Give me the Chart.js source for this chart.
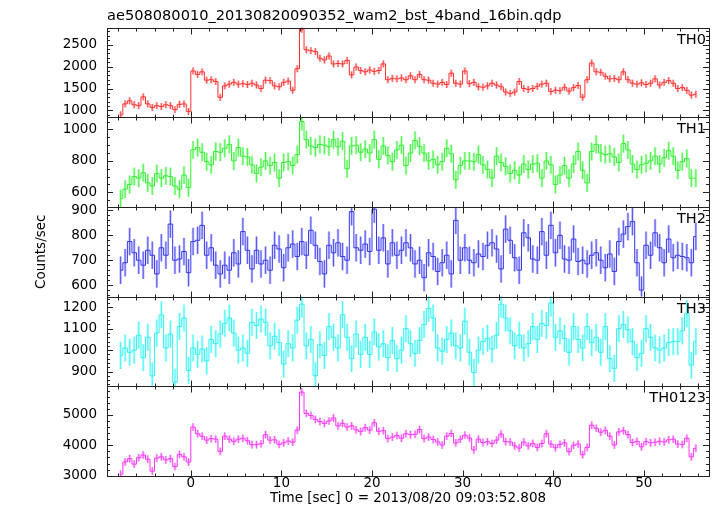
<!DOCTYPE html>
<html>
<head>
<meta charset="utf-8">
<script src="https://cdn.jsdelivr.net/npm/chart.js@4.4.1/dist/chart.umd.min.js"></script>
<style>
html, body { margin: 0; padding: 0; background: #fff; }
#wrap { width: 717px; height: 516px; }
</style>
</head>
<body>
<div id="wrap"><canvas id="lc" width="717" height="516"></canvas></div>
<script>
// light curve, 0.5 s bins starting at -7.75 s
const binStart = -7.75;
const binWidth = 0.5;

const th0 = [
  900, 1150, 1220, 1130, 1110, 1310, 1150, 1070, 1110, 1090,
  1130, 1110, 1020, 1140, 1150, 980, 1900, 1820, 1880, 1690,
  1700, 1660, 1300, 1560, 1600, 1640, 1600, 1610, 1590, 1620,
  1580, 1500, 1690, 1680, 1560, 1540, 1640, 1670, 1460, 1950,
  2850, 2380, 2360, 2340, 2190, 2150, 2240, 2060, 2070, 2060,
  2140, 1810, 1990, 1910, 1880, 1920, 1890, 1910, 2060, 1700,
  1730, 1720, 1740, 1700, 1790, 1700, 1820, 1700, 1690, 1620,
  1600, 1640, 1590, 1850, 1620, 1600, 1900, 1610, 1640, 1540,
  1530, 1560, 1620, 1580, 1540, 1420, 1390, 1420, 1660, 1500,
  1480, 1500, 1550, 1600, 1620, 1430, 1460, 1450, 1530, 1440,
  1520, 1570, 1300, 1700, 2080, 1880, 1870, 1780, 1720, 1730,
  1700, 1880, 1700, 1620, 1600, 1630, 1590, 1620, 1720, 1580,
  1640, 1680, 1620, 1500, 1520, 1460, 1350, 1370
];
const th1 = [
  560, 620, 650, 700, 690, 725, 660, 640, 720, 690,
  705, 700, 640, 620, 710, 630, 870, 885, 855, 795,
  775, 860, 855, 880, 905, 800, 885, 830, 825, 775,
  720, 760, 800, 770, 790, 690, 790, 795, 770, 840,
  1050, 935, 895, 885, 905, 900, 890, 935, 890, 925,
  750, 895, 900, 855, 875, 850, 935, 810, 895, 835,
  795, 870, 900, 770, 850, 930, 893, 850, 800, 810,
  775, 795, 880, 845, 680, 770, 800, 800, 795, 840,
  775, 745, 690, 830, 790, 765, 720, 740, 710, 780,
  745, 780, 785, 690, 800, 775, 650, 710, 770, 690,
  780, 860, 740, 660, 860, 905, 850, 840, 845, 825,
  790, 910, 870, 780, 745, 775, 785, 800, 830, 780,
  820, 865, 830, 740, 795, 815, 690, 690
];
const th2 = [
  660, 690, 775, 730, 700, 680, 740, 720, 645, 750,
  720, 845, 700, 705, 735, 650, 775, 780, 840, 720,
  750, 680, 645, 680, 660, 730, 685, 815, 740, 665,
  740, 685, 700, 660, 760, 745, 670, 750, 765, 715,
  775, 720, 820, 760, 695, 645, 760, 730, 770, 715,
  700, 895, 750, 740, 765, 735, 905, 740, 790, 685,
  770, 720, 740, 770, 750, 685, 700, 630, 730, 715,
  655, 690, 720, 645, 860, 700, 750, 700, 690, 725,
  715, 760, 770, 745, 665, 825, 780, 710, 660, 810,
  790, 705, 700, 815, 720, 840, 730, 800, 705, 700,
  785, 695, 700, 685, 720, 730, 700, 670, 725, 655,
  775, 805, 835, 855, 690, 580, 760, 720, 810, 750,
  690, 785, 710, 720, 715, 710, 690, 795
];
const th3 = [
  975, 1010, 990, 1000, 1070, 965, 1060, 880, 1080, 1165,
  1010, 1075, 850, 1110, 1150, 905, 1010, 980, 1005, 950,
  1050, 1030, 1075, 1125, 1150, 1080, 1000, 1010, 985, 1130,
  1115, 1145, 1130, 1020, 1065, 1035, 935, 1030, 1010, 1140,
  1215, 1020, 1050, 880, 1025, 975, 1110, 1060, 1010, 1165,
  1060, 960, 1075, 980, 1060, 980, 1085, 1015, 1030, 965,
  1045, 960, 1000, 1100, 1030, 985, 1045, 1120, 1195, 1150,
  1010, 995, 1050, 1080, 1020, 1010, 1135, 990, 895, 1000,
  1040, 1055, 1005, 1070, 1215, 1150, 1090, 1020, 1070, 1010,
  1030, 1110, 1050, 1125, 1115, 1220, 1060, 1090, 1055, 990,
  1110, 1050, 1010, 1110, 1035, 1060, 990, 1110, 960, 915,
  1100, 1120, 1095, 1040, 965, 985, 1100, 1060, 1010, 1000,
  1010, 1035, 1040, 1040, 1090, 1170, 930, 1040
];
const th0123 = [
  3050, 3450, 3560, 3380, 3590, 3680, 3540, 3150, 3580, 3620,
  3520, 3560, 3300, 3700, 3620, 3450, 4600, 4380, 4300, 4170,
  4220, 4200, 3800, 4300, 4200, 4130, 4200, 4230, 4150, 4020,
  4020, 4050, 4350, 4170, 4180, 4030, 4080, 4140, 4100, 4500,
  5750, 5050, 4980, 4850, 4780, 4720, 4800, 4900, 4640, 4720,
  4600, 4640, 4510, 4450, 4580, 4500, 4740, 4460, 4480, 4220,
  4270, 4320, 4230, 4380, 4350, 4360, 4520, 4220, 4270, 4190,
  4110, 4010, 4300, 4390, 4080, 4200, 4330, 4240, 3850, 4200,
  4090, 4120, 4060, 4170, 4370, 4120, 4110, 3980, 3910, 4110,
  3980, 4060, 3930, 4060, 4380, 4040, 3920, 4030, 4080, 3790,
  4000, 4040, 3690, 3930, 4660, 4560, 4430, 4490, 4300, 4010,
  4440, 4480, 4350, 4090, 4130, 3950, 4120, 4080, 4100, 4130,
  4110, 4180, 4200, 4040, 4030, 4230, 3620, 3900
];

const panelNames = ['TH0', 'TH1', 'TH2', 'TH3', 'TH0123'];
const panelSeries = [th0, th1, th2, th3, th0123];
const panelMin = [847, 507, 554, 831, 2990];
const panelMax = [2888, 1078, 914, 1250, 5940];
const panelTicks = [
  [1000, 1500, 2000, 2500],
  [600, 800, 1000],
  [600, 700, 800, 900],
  [900, 1000, 1100, 1200],
  [3000, 4000, 5000]
];
const panelMinor = [100, 50, 20, 20, 200];
const errHalf = [80, 57, 55, 63, 126];
const xTicks = [0, 10, 20, 30, 40, 50];
const xMinorStep = 2;
const xMin = -9.25, xMax = 57.2;

const lineColors = ['#ff3030', '#33ee33', '#3535ee', '#33eeee', '#f535f5'];
const errFill = ['rgba(255,80,80,0.4)', 'rgba(80,255,80,0.45)', 'rgba(90,90,255,0.4)', 'rgba(80,255,255,0.45)', 'rgba(255,80,255,0.4)'];
const errLine = ['rgba(255,40,40,0.7)', 'rgba(50,240,50,0.75)', 'rgba(55,55,240,0.75)', 'rgba(50,240,240,0.75)', 'rgba(245,50,245,0.7)'];

const binTimes = th0.map((_, i) => binStart + i * binWidth);

Chart.defaults.font.family = 'DejaVu Sans';
Chart.defaults.color = '#000';

const datasets = panelSeries.map((vals, p) => ({
  label: panelNames[p],
  yAxisID: 'y' + p,
  data: vals.map((v, i) => ({ x: binTimes[i], y: v })),
  borderColor: lineColors[p],
  borderWidth: 1,
  pointRadius: 0,
  stepped: 'middle',
  fill: false
}));

const scales = {
  x: {
    type: 'linear',
    position: 'bottom',
    min: xMin,
    max: xMax,
    grid: { display: false, drawTicks: false, tickLength: 0 },
    border: { display: false },
    ticks: { padding: 1, autoSkip: false, maxRotation: 0, font: { size: 13.5, lineHeight: 1 } },
    afterBuildTicks: s => { s.ticks = xTicks.map(v => ({ value: v })); },
    afterFit: s => { s.height = 40; },
    title: {
      display: true,
      text: 'Time [sec] 0 = 2013/08/20 09:03:52.808',
      font: { size: 13.5 },
      padding: { top: 0, bottom: 9 }
    }
  }
};
for (let p = 4; p >= 0; p--) {
  scales['y' + p] = {
    type: 'linear',
    position: 'left',
    stack: 'panels',
    stackWeight: 1,
    min: panelMin[p],
    max: panelMax[p],
    grid: { display: false, drawTicks: false, tickLength: 0 },
    border: { display: false },
    ticks: { padding: 10, autoSkip: false, font: { size: 13.5 }, callback: v => String(v) },
    afterBuildTicks: s => { s.ticks = panelTicks[p].map(v => ({ value: v })); },
    afterFit: s => { s.width = 60; }
  };
}

const panelPlugin = {
  id: 'panels',
  beforeDatasetsDraw(chart) {
    const ctx = chart.ctx;
    const area = chart.chartArea;
    const xs = chart.scales.x;
    const halfW = Math.abs(xs.getPixelForValue(binWidth) - xs.getPixelForValue(0)) / 2;
    chart.data.datasets.forEach((ds, di) => {
      const meta = chart.getDatasetMeta(di);
      const ys = chart.scales[ds.yAxisID];
      ctx.save();
      ctx.beginPath();
      ctx.rect(area.left, ys.top, area.right - area.left, ys.bottom - ys.top);
      ctx.clip();
      ds.data.forEach((pt, j) => {
        const el = meta.data[j];
        const yTop = ys.getPixelForValue(pt.y + errHalf[di]);
        const yBot = ys.getPixelForValue(pt.y - errHalf[di]);
        ctx.fillStyle = errFill[di];
        ctx.fillRect(el.x - halfW * 0.55, yTop, halfW * 1.1, yBot - yTop);
        ctx.fillStyle = errLine[di];
        ctx.fillRect(el.x - 0.5, yTop, 1, yBot - yTop);
      });
      ctx.restore();
    });
  },
  afterDatasetsDraw(chart) {
    const ctx = chart.ctx;
    const area = chart.chartArea;
    const xs = chart.scales.x;
    ctx.save();
    ctx.strokeStyle = '#222';
    ctx.lineWidth = 1;
    for (let p = 0; p < 5; p++) {
      const ys = chart.scales['y' + p];
      const top = Math.round(ys.top) + 0.5;
      const bot = Math.round(ys.bottom) + 0.5;
      ctx.strokeRect(area.left + 0.5, top, area.right - area.left, bot - top);
      ctx.beginPath();
      // y ticks, both sides
      const majors = panelTicks[p];
      const step = panelMinor[p];
      for (let k = Math.ceil(panelMin[p] / step); k * step <= panelMax[p]; k++) {
        const v = k * step;
        const len = majors.includes(v) ? 6 : 3;
        const y = Math.round(ys.getPixelForValue(v)) + 0.5;
        ctx.moveTo(area.left, y); ctx.lineTo(area.left + len, y);
        ctx.moveTo(area.right, y); ctx.lineTo(area.right - len, y);
      }
      // x ticks, top and bottom of every panel
      for (let k = Math.ceil(xMin / xMinorStep); k * xMinorStep <= xMax; k++) {
        const v = k * xMinorStep;
        const len = xTicks.includes(v) ? 6 : 3;
        const x = Math.round(xs.getPixelForValue(v)) + 0.5;
        ctx.moveTo(x, top); ctx.lineTo(x, top + len);
        ctx.moveTo(x, bot); ctx.lineTo(x, bot - len);
      }
      ctx.stroke();
      // panel name
      ctx.fillStyle = '#000';
      ctx.font = '14.5px "DejaVu Sans"';
      ctx.textAlign = 'right';
      ctx.textBaseline = 'alphabetic';
      ctx.fillText(panelNames[p], area.right - 3, ys.top + 16);
    }
    // common y axis label
    const y0 = chart.scales.y0, y4 = chart.scales.y4;
    ctx.translate(41, (y0.top + y4.bottom) / 2);
    ctx.rotate(-Math.PI / 2);
    ctx.font = '13.5px "DejaVu Sans"';
    ctx.textAlign = 'center';
    ctx.textBaseline = 'middle';
    ctx.fillText('Counts/sec', 0, 0);
    ctx.restore();
  }
};

new Chart(document.getElementById('lc'), {
  type: 'line',
  data: { datasets },
  options: {
    responsive: false,
    animation: false,
    layout: { padding: { left: 47, right: 8, top: 0, bottom: 0 } },
    scales,
    plugins: {
      legend: { display: false },
      tooltip: { enabled: false },
      title: {
        display: true,
        text: 'ae508080010_20130820090352_wam2_bst_4band_16bin.qdp',
        align: 'start',
        fullSize: false,
        font: { size: 14.6, weight: 'normal' },
        color: '#000',
        padding: { top: 7, bottom: 3 }
      }
    }
  },
  plugins: [panelPlugin]
});
</script>
</body>
</html>
